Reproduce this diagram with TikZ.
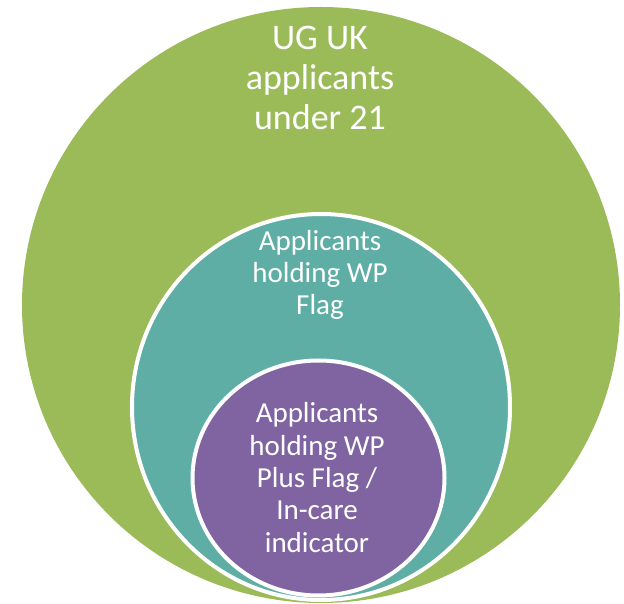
\documentclass[tikz,border=0pt]{standalone}
\usepackage{fontspec}
\usetikzlibrary{shapes.geometric}
\setmainfont{Carlito}
\definecolor{ggreen}{HTML}{9BBB59}
\definecolor{gteal}{HTML}{5EAEA6}
\definecolor{gpurple}{HTML}{8064A2}
\begin{document}
\begin{tikzpicture}[x=1pt,y=1pt,
  ring/.style={ellipse, inner sep=0pt, outer sep=0pt, draw=white, line width=4pt},
  lbl/.style={text=white, align=center, inner sep=0pt, anchor=base},
  big/.style={font=\fontsize{36}{40}\selectfont},
  small/.style={font=\fontsize{29}{32.3}\selectfont}]
\useasboundingbox (0,0) rectangle (624,603);
\clip (0,0) rectangle (624,603);
\node[ellipse, fill=ggreen, inner sep=0pt, minimum width=598pt, minimum height=596pt] (outer) at (321,298) {};
\node[ring, fill=gteal, minimum width=378pt, minimum height=386pt] (mid) at (321,196) {};
\node[ring, fill=gpurple, minimum width=252pt, minimum height=235pt] (inner) at (318.5,125) {};
\node[lbl, big] (t1) at (320,473) {UG UK\\applicants\\under 21};
\node[lbl, small] (t2) at (320,288) {Applicants\\holding WP\\Flag};
\node[lbl, small] (t3) at (317,51) {Applicants\\holding WP\\Plus Flag /\\In-care\\indicator};
\end{tikzpicture}
\end{document}
